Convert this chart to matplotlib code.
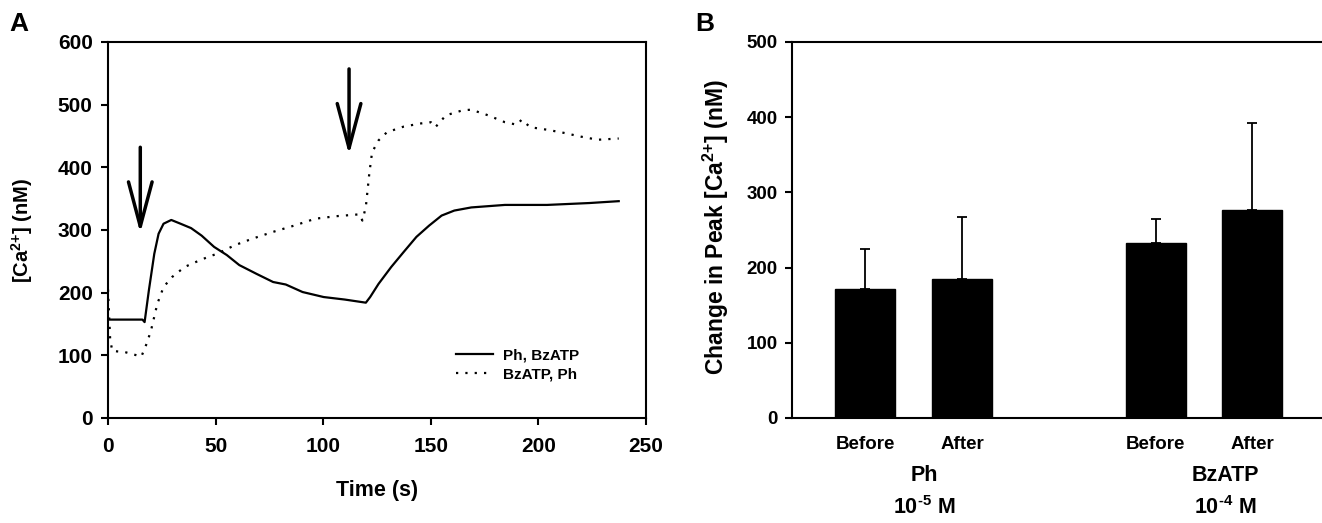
#!/usr/bin/env python3
"""
Two-panel figure:
(A) [Ca2+] time course for the two drug orders
(B) Change in peak [Ca2+] before/after, Ph and BzATP
"""

import numpy as np
import matplotlib
matplotlib.use("Agg")
import matplotlib.pyplot as plt
from matplotlib.transforms import blended_transform_factory

plt.rcParams['font.family'] = ['Liberation Sans', 'DejaVu Sans']
plt.rcParams['font.weight'] = 'bold'
plt.rcParams['mathtext.fontset'] = 'custom'
plt.rcParams['mathtext.rm'] = 'Liberation Sans:bold'
plt.rcParams['mathtext.bf'] = 'Liberation Sans:bold'
plt.rcParams['mathtext.default'] = 'bf'

# Panel A: Ph first, then BzATP (solid)
t_ph = [0, 8, 16, 17, 19, 21.5, 23.5, 25.8, 29.4, 33.7, 38.6, 43.5, 49.3, 55.2,
        61, 69, 76.7, 82.6, 90.4, 100.2, 110, 119.8, 121.8, 125.7, 131.6, 137.4,
        143.3, 149.2, 155, 160.9, 168.8, 184.4, 204, 223.6, 237.3]
ca_ph = [157, 157, 157, 153, 204, 262, 294, 310, 316, 310, 303, 291, 273, 260,
         244, 230, 217, 213, 201, 193, 189, 184, 193, 214, 241, 265,
         289, 307, 323, 331, 336, 340, 340, 343, 346]

# Panel A: BzATP first, then Ph (dotted)
t_bz = [0, 1, 2, 8, 15.5, 18, 20, 22.9, 25.8, 29.8, 35.6, 43.5, 51.3, 59.1, 67,
        76.7, 86.5, 96.3, 106, 116.9, 118.2, 119.8, 121.4, 122.7, 125.7, 129.6,
        137.4, 145.3, 150, 152.1, 157, 164.8, 168.8, 176.6, 184.4, 190, 192.2,
        196.2, 204, 211.8, 219.7, 227.5, 237.3]
ca_bz = [205, 125, 107, 105, 98, 119, 140, 182, 209, 225, 241, 253, 263, 276, 286,
         297, 307, 318, 322, 325, 315, 337, 390, 424, 443, 456,
         465, 470, 472, 464, 483, 491, 492, 483, 472, 468, 476,
         464, 460, 455, 449, 444, 446]

# arrows marking drug additions: time, start value, tip value
arrow_t = [15, 112]
arrow_start = [432, 557]
arrow_tip = [295, 420]

# Panel B
bar_labels = ['Before', 'After', 'Before', 'After']
bar_pos = [0, 1, 3, 4]
peak_change = [171, 185, 233, 277]
peak_err = [54, 82, 32, 115]
group_names = ['Ph', 'BzATP']
group_conc = [r'10$^{\text{-5}}$ M', r'10$^{\text{-4}}$ M']
group_label_x = [0.61, 3.72]

CA_LABEL = r'[Ca$^{2{+}}$]'


def main():
    fig = plt.figure(figsize=(13.22, 5.23), dpi=100)

    # ---------------- Panel A ----------------
    ax1 = fig.add_axes([0.0817, 0.2008, 0.407, 0.7189])
    ax1.plot(t_ph, ca_ph, color='black', lw=1.6, label='Ph, BzATP')
    ax1.plot(t_bz, ca_bz, color='black', lw=1.6, linestyle=(0, (1, 3.2)),
             label='BzATP, Ph')
    for t, y0, y1 in zip(arrow_t, arrow_start, arrow_tip):
        ax1.annotate('', xy=(t, y1), xytext=(t, y0),
                     arrowprops=dict(arrowstyle='->,head_length=3.2,head_width=0.85',
                                     lw=2.5, color='black', shrinkA=0, shrinkB=0,
                                     mutation_scale=10))
    ax1.set_xlim(0, 250)
    ax1.set_ylim(0, 600)
    ax1.set_xticks(np.arange(0, 251, 50))
    ax1.set_yticks(np.arange(0, 601, 100))
    ax1.tick_params(labelsize=15, direction='out', length=5, width=1.5)
    ax1.tick_params(axis='x', pad=9)
    ax1.tick_params(axis='y', pad=6)
    for s in ax1.spines.values():
        s.set_linewidth(1.5)
    ax1.set_xlabel('Time (s)', fontsize=15.5, fontweight='bold')
    ax1.xaxis.set_label_coords(0.5, -0.165)
    ax1.set_ylabel(CA_LABEL + ' (nM)', fontsize=14.5, fontweight='bold')
    ax1.yaxis.set_label_coords(-0.135, 0.5)
    ax1.legend(loc='center left', bbox_to_anchor=(0.647, 0.141), frameon=False,
               fontsize=11, handlelength=2.4, handletextpad=0.65,
               labelspacing=0.3, borderpad=0, borderaxespad=0)

    # ---------------- Panel B ----------------
    ax2 = fig.add_axes([0.599, 0.2008, 0.401, 0.7189])
    ax2.bar(bar_pos, peak_change, width=0.62, color='black', edgecolor='black',
            zorder=2)
    ax2.errorbar(bar_pos, peak_change, yerr=[[0] * len(peak_err), peak_err],
                 fmt='none', ecolor='black', elinewidth=1.3, capsize=3.8,
                 capthick=1.3, zorder=1)
    ax2.set_xlim(-0.76, 4.72)
    ax2.set_ylim(0, 500)
    ax2.set_yticks(np.arange(0, 501, 100))
    ax2.set_xticks(bar_pos)
    ax2.set_xticklabels(bar_labels, fontsize=13.5)
    ax2.tick_params(axis='x', length=0, pad=13)
    ax2.tick_params(axis='y', labelsize=13.5, direction='out', length=5,
                    width=1.5, pad=5)
    ax2.spines['right'].set_visible(False)
    for s in ['left', 'top', 'bottom']:
        ax2.spines[s].set_linewidth(1.5)
    ax2.set_ylabel('Change in Peak ' + CA_LABEL + ' (nM)', fontsize=16.5,
                   fontweight='bold')
    ax2.yaxis.set_label_coords(-0.115, 0.508)

    trans = blended_transform_factory(ax2.transData, ax2.transAxes)
    for x, name, conc in zip(group_label_x, group_names, group_conc):
        ax2.text(x, -0.152, name, transform=trans, ha='center', va='center',
                 fontsize=15.5, fontweight='bold')
        ax2.text(x, -0.238, conc, transform=trans, ha='center', va='center',
                 fontsize=15.5, fontweight='bold')

    fig.text(0.007, 0.955, 'A', fontsize=19, fontweight='bold', va='center')
    fig.text(0.526, 0.955, 'B', fontsize=19, fontweight='bold', va='center')

    fig.savefig('out.png', dpi=100)
    plt.close(fig)


if __name__ == "__main__":
    main()
